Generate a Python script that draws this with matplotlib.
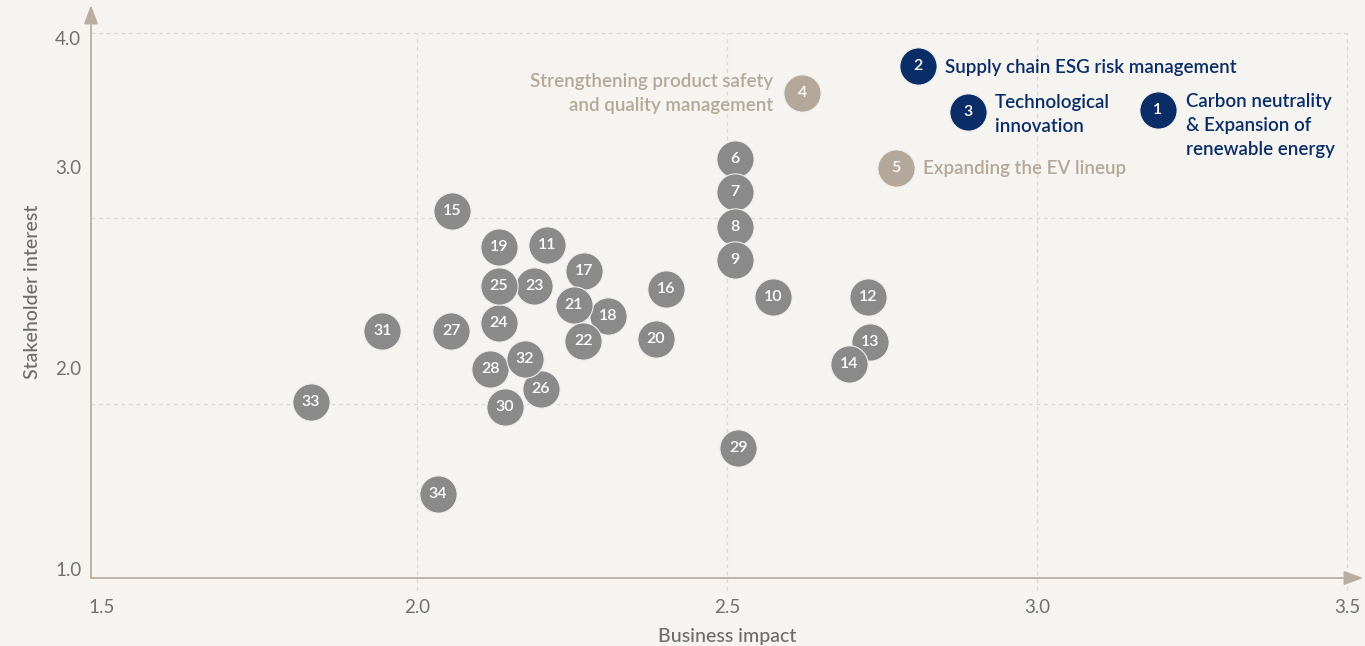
import numpy as np
import matplotlib
matplotlib.use("Agg")
import matplotlib.pyplot as plt
import matplotlib.transforms as mtransforms

plt.rcParams['font.family'] = ['Lato', 'DejaVu Sans']

# Material issues: id, business impact, stakeholder interest
issue_ids = list(range(1, 35))
business_impact = [
    3.195, 2.808, 2.889, 2.621, 2.773, 2.513, 2.513, 2.513, 2.513, 2.574,
    2.210, 2.727, 2.731, 2.697, 2.056, 2.402, 2.269, 2.308, 2.132, 2.385,
    2.253, 2.268, 2.189, 2.132, 2.132, 2.200, 2.055, 2.118, 2.518, 2.142,
    1.944, 2.174, 1.829, 2.034,
]
stakeholder_interest = [
    3.426, 3.753, 3.411, 3.552, 2.995, 3.060, 2.876, 2.701, 2.537, 2.353,
    2.612, 2.353, 2.129, 2.020, 2.781, 2.393, 2.483, 2.259, 2.602, 2.144,
    2.313, 2.134, 2.408, 2.224, 2.408, 1.896, 2.184, 1.995, 1.602, 1.806,
    2.184, 2.045, 1.831, 1.373,
]
# tier: 'core' (navy), 'watch' (beige), 'other' (gray)
tiers = ['core', 'core', 'core', 'watch', 'watch'] + ['other'] * 29

label_texts = {
    1: "Carbon neutrality\n& Expansion of\nrenewable energy",
    2: "Supply chain ESG risk management",
    3: "Technological\ninnovation",
    4: "Strengthening product safety\nand quality management",
    5: "Expanding the EV lineup",
}

x_ticks = [1.5, 2.0, 2.5, 3.0, 3.5]
y_ticks = [1.0, 2.0, 3.0, 4.0]
y_grid = [1.82, 2.746, 4.0]

BG = "#f5f4f0"
NAVY = "#0a2d67"
BEIGE = "#b3a899"
GRAY = "#8a8a8a"
AXIS = "#b9ad9f"
TICK = "#707070"
GRID = "#dcd9d3"
tier_color = {'core': NAVY, 'watch': BEIGE, 'other': GRAY}


# the upper band of the interest axis is compressed
def fwd(v):
    v = np.asarray(v, dtype=float)
    return np.where(v <= 3.0, v, 3.0 + (v - 3.0) * (2.0 / 3.0))


def inv(t):
    t = np.asarray(t, dtype=float)
    return np.where(t <= 3.0, t, 3.0 + (t - 3.0) * 1.5)


fig = plt.figure(figsize=(13.65, 6.46), dpi=100, facecolor=BG)
ax = fig.add_axes([91 / 1365, 68 / 646, (1363 - 91) / 1365, (578 - 5) / 646])
ax.set_facecolor(BG)
ax.set_yscale('function', functions=(fwd, inv))
ax.set_xlim(1.4742, 3.5258)
ax.set_ylim(0.955, 4.209)

for s in ax.spines.values():
    s.set_visible(False)

# dashed guide lines
for xv in x_ticks[1:]:
    ax.plot([xv, xv], [0.8955, 4.0], ls=(0, (3, 3)), lw=0.9, color=GRID,
            zorder=0, clip_on=False)
for yv in y_grid:
    ax.plot([1.4742, 3.5], [yv, yv], ls=(0, (3, 3)), lw=0.9, color=GRID,
            zorder=0, clip_on=False)

# axis arrows
arrow_kw = dict(arrowstyle='-|>,head_length=11.5,head_width=4.3',
                mutation_scale=1, color=AXIS, lw=1.3, shrinkA=0, shrinkB=0)
ax.annotate('', xy=(1, 0), xytext=(0, 0), xycoords='axes fraction',
            arrowprops=arrow_kw, annotation_clip=False)
ax.annotate('', xy=(0, 1), xytext=(0, 0), xycoords='axes fraction',
            arrowprops=arrow_kw, annotation_clip=False)

ax.set_xticks(x_ticks)
ax.set_xticklabels([f"{v:.1f}" for v in x_ticks])
ax.set_yticks(y_ticks)
ax.set_yticklabels([f"{v:.1f}" for v in y_ticks])
ax.yaxis.set_minor_locator(matplotlib.ticker.NullLocator())
ax.tick_params(axis='both', length=0, labelsize=13.5, labelcolor=TICK)
ax.tick_params(axis='x', pad=15)
ax.tick_params(axis='y', pad=7)

# small nudges for the corner tick labels
first_x = ax.get_xticklabels()[0]
first_x.set_transform(first_x.get_transform() +
                      mtransforms.ScaledTranslation(-5 / 100, 0, fig.dpi_scale_trans))
top_y = ax.get_yticklabels()[-1]
top_y.set_transform(top_y.get_transform() +
                    mtransforms.ScaledTranslation(0, -5 / 100, fig.dpi_scale_trans))

ax.set_xlabel("Business impact", fontsize=14, color="#6c6c6c", labelpad=9,
              fontweight='medium')
ax.set_ylabel("Stakeholder interest", fontsize=14, color="#6c6c6c", labelpad=10,
              fontweight='medium')

# bubbles
for i, (n, x, y, t) in enumerate(zip(issue_ids, business_impact,
                                     stakeholder_interest, tiers)):
    ax.scatter([x], [y], s=720, color=tier_color[t], edgecolors="#eeeeee",
               linewidths=0.8, zorder=3 + i * 0.01)
    ax.text(x, y, str(n), ha='center', va='center', color='white',
            fontsize=11.5, fontweight='semibold', zorder=3 + i * 0.01 + 0.005)

# callout texts for the key issues
def callout(n, dx, dy, ha, color):
    x = business_impact[n - 1]
    y = stakeholder_interest[n - 1]
    ax.annotate(label_texts[n], xy=(x, y), xytext=(dx, dy),
                textcoords='offset pixels', ha=ha, va='center',
                fontsize=13.5, color=color, linespacing=1.5,
                fontweight='semibold')

callout(1, 28, -16, 'left', NAVY)
callout(2, 27, -1, 'left', NAVY)
callout(3, 27, -3, 'left', NAVY)
callout(4, -29, 0, 'right', BEIGE)
callout(5, 27, -1, 'left', BEIGE)

fig.savefig("out.png", dpi=100, facecolor=BG)
